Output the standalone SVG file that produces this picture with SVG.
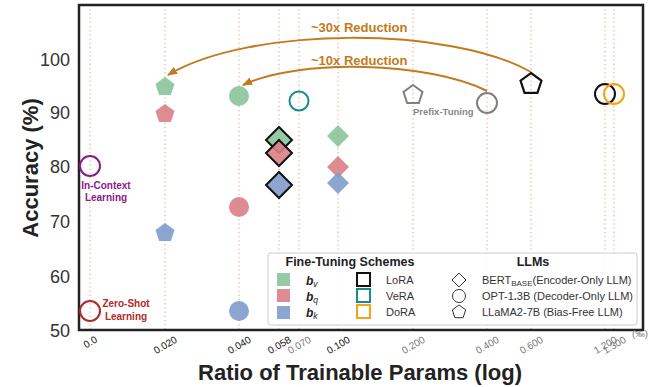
<svg xmlns="http://www.w3.org/2000/svg" width="659" height="387" viewBox="0 0 659 387">
<style>
text{font-family:"Liberation Sans",Arial,sans-serif}
.grid{stroke:#d9a07a;stroke-width:1;stroke-dasharray:1.2,3}
.ytick{font-size:18px;fill:#333;text-anchor:end}
.xtick{font-size:10px;text-anchor:middle}
.dk{fill:#111}
.lt{fill:#777}
.title{font-size:22px;font-weight:bold;fill:#222}
.g{fill:#88c49a;fill-opacity:.9}
.r{fill:#d97f87;fill-opacity:.9}
.b{fill:#7f9ccb;fill-opacity:.9}
.edge{stroke:#111;stroke-width:2}
.open{fill:none;stroke-width:2}
.arrow{fill:none;stroke:#c27a1d;stroke-width:2}
.alab{font-size:13px;font-weight:bold;fill:#c27a1d}
.leg{font-size:11px;fill:#333}
.legh{font-size:12.5px;font-weight:bold;fill:#222}
</style>
<defs>
<polygon id="pent" points="0,-10 9.51,-3.09 5.88,8.09 -5.88,8.09 -9.51,-3.09"/>
<polygon id="dia" points="0,-13 13,0 0,13 -13,0"/>
<polygon id="dias" points="0,-11 11,0 0,11 -11,0"/>
<marker id="ah" markerWidth="10" markerHeight="8" refX="9" refY="4" orient="auto" markerUnits="userSpaceOnUse">
<path d="M0,0 L10,4 L0,8 Z" fill="#c27a1d"/>
</marker>
</defs>
<rect width="659" height="387" fill="#fff"/>
<g id="grid">
<line class="grid" x1="90" y1="5" x2="90" y2="330"/>
<line class="grid" x1="165" y1="5" x2="165" y2="330"/>
<line class="grid" x1="239" y1="5" x2="239" y2="330"/>
<line class="grid" x1="279" y1="5" x2="279" y2="330"/>
<line class="grid" x1="299" y1="5" x2="299" y2="330"/>
<line class="grid" x1="338" y1="5" x2="338" y2="330"/>
<line class="grid" x1="413" y1="5" x2="413" y2="330"/>
<line class="grid" x1="487" y1="5" x2="487" y2="330"/>
<line class="grid" x1="531" y1="5" x2="531" y2="330"/>
<line class="grid" x1="605" y1="5" x2="605" y2="330"/>
<line class="grid" x1="614" y1="5" x2="614" y2="330"/>
</g>
<g id="axes">
<rect x="79" y="5" width="564" height="325" fill="none" stroke="#222" stroke-width="2.5"/>
<text class="ytick" x="70" y="66">100</text>
<text class="ytick" x="70" y="119">90</text>
<text class="ytick" x="70" y="173">80</text>
<text class="ytick" x="70" y="228">70</text>
<text class="ytick" x="70" y="283">60</text>
<text class="ytick" x="70" y="337">50</text>
<text class="xtick dk" transform="translate(92,345) rotate(-30)">0.0</text>
<text class="xtick dk" transform="translate(167,348) rotate(-30)">0.020</text>
<text class="xtick dk" transform="translate(241,348) rotate(-30)">0.040</text>
<text class="xtick dk" transform="translate(281,348) rotate(-30)">0.058</text>
<text class="xtick lt" transform="translate(301,348) rotate(-30)">0.070</text>
<text class="xtick dk" transform="translate(340,348) rotate(-30)">0.100</text>
<text class="xtick lt" transform="translate(415,348) rotate(-30)">0.200</text>
<text class="xtick lt" transform="translate(489,348) rotate(-30)">0.400</text>
<text class="xtick lt" transform="translate(533,348) rotate(-30)">0.600</text>
<text class="xtick lt" transform="translate(607,348) rotate(-30)">1.200</text>
<text class="xtick lt" transform="translate(616,348) rotate(-30)">1.300</text>
<text x="632" y="337" style="font-size:9.5px;fill:#777">(‰)</text>
<text class="title" transform="translate(38,168) rotate(-90)" text-anchor="middle">Accuracy (%)</text>
<text class="title" x="360" y="380" text-anchor="middle">Ratio of Trainable Params (log)</text>
</g>
<g id="connectors">
<path class="arrow" d="M531,72 C450,26 250,26 168,75" marker-end="url(#ah)"/>
<path class="arrow" d="M487,91 C430,62 300,58 243,85" marker-end="url(#ah)"/>
<text class="alab" x="311" y="32">~30x Reduction</text>
<text class="alab" x="311" y="65">~10x Reduction</text>
</g>
<g id="icl">
<circle class="open" cx="90" cy="166" r="10" stroke="#8b1a8b"/>
<text x="106" y="189" text-anchor="middle" style="font-size:10px;font-weight:bold;fill:#8b1a8b">In-Context</text>
<text x="106" y="201" text-anchor="middle" style="font-size:10px;font-weight:bold;fill:#8b1a8b">Learning</text>
</g>
<g id="zeroshot">
<circle class="open" cx="90" cy="311" r="10" stroke="#b02a2a"/>
<text x="126" y="307" text-anchor="middle" style="font-size:10px;font-weight:bold;fill:#b02a2a">Zero-Shot</text>
<text x="126" y="320" text-anchor="middle" style="font-size:10px;font-weight:bold;fill:#b02a2a">Learning</text>
</g>
<g id="llama-bias">
<use href="#pent" x="165" y="87" class="g"/>
<use href="#pent" x="165" y="114" class="r"/>
<use href="#pent" x="165" y="233" class="b"/>
</g>
<g id="opt-bias">
<circle cx="239" cy="96" r="10" class="g"/>
<circle cx="239" cy="207" r="10" class="r"/>
<circle cx="239" cy="311" r="10" class="b"/>
</g>
<g id="bert-bias-lora">
<use href="#dia" x="279" y="140" class="g edge"/>
<use href="#dia" x="279" y="153" class="r edge"/>
<use href="#dia" x="279" y="185" class="b edge"/>
</g>
<g id="opt-vera">
<circle class="open" cx="299" cy="101" r="9.5" stroke="#1a8a8a"/>
</g>
<g id="bert-bias">
<use href="#dias" x="338" y="136" class="g"/>
<use href="#dias" x="338" y="167" class="r"/>
<use href="#dias" x="338" y="183" class="b"/>
</g>
<g id="prefix">
<use href="#pent" x="413" y="95" class="open" stroke="#808080"/>
<circle class="open" cx="487" cy="103" r="10" stroke="#808080"/>
<text x="413" y="115" style="font-size:9.5px;font-weight:bold;fill:#888">Prefix-Tuning</text>
</g>
<g id="llama-lora">
<use href="#pent" x="531" y="84" transform="translate(531,84) scale(1.1) translate(-531,-84)" class="open" stroke="#111"/>
</g>
<g id="opt-lora">
<circle class="open" cx="605" cy="94" r="10" stroke="#111"/>
</g>
<g id="opt-dora">
<circle class="open" cx="614" cy="94" r="10" stroke="#f5a30f"/>
</g>
<g id="legend">
<rect x="268" y="253" width="369" height="72" rx="3" fill="#fff" fill-opacity=".85" stroke="#ccc"/>
<text class="legh" x="350" y="266" text-anchor="middle">Fine-Tuning Schemes</text>
<text class="legh" x="533" y="266" text-anchor="middle">LLMs</text>
<rect x="277" y="273" width="13" height="13" class="g"/>
<rect x="277" y="289" width="13" height="13" class="r"/>
<rect x="277" y="306" width="13" height="13" class="b"/>
<text x="306" y="285" style="font-size:12px;fill:#222;font-weight:bold;font-style:italic">b<tspan style="font-size:8.5px;font-weight:normal" dy="1.5">v</tspan></text>
<text x="306" y="301" style="font-size:12px;fill:#222;font-weight:bold;font-style:italic">b<tspan style="font-size:8.5px;font-weight:normal" dy="1.5">q</tspan></text>
<text x="306" y="317" style="font-size:12px;fill:#222;font-weight:bold;font-style:italic">b<tspan style="font-size:8.5px;font-weight:normal" dy="1.5">k</tspan></text>
<rect x="357" y="273" width="13" height="13" fill="none" stroke="#111" stroke-width="2"/>
<rect x="357" y="289" width="13" height="13" fill="none" stroke="#1a8a8a" stroke-width="2"/>
<rect x="357" y="305" width="13" height="13" fill="none" stroke="#f5a30f" stroke-width="2"/>
<text class="leg" x="386" y="284">LoRA</text>
<text class="leg" x="386" y="300">VeRA</text>
<text class="leg" x="386" y="316">DoRA</text>
<polygon points="459,273 466,280 459,287 452,280" fill="none" stroke="#333"/>
<circle cx="459" cy="296" r="6.5" fill="none" stroke="#333"/>
<polygon points="459,305 465.7,309.9 463.1,317.7 454.9,317.7 452.3,309.9" fill="none" stroke="#333"/>
<text class="leg" x="482" y="284">BERT<tspan style="font-size:8px" dy="2">BASE</tspan><tspan dy="-2">(Encoder-Only LLM)</tspan></text>
<text class="leg" x="482" y="300">OPT-1<tspan font-weight="bold">.</tspan>3B (Decoder-Only LLM)</text>
<text class="leg" x="482" y="316">LLaMA2-7B (Bias-Free LLM)</text>
</g>
</svg>
